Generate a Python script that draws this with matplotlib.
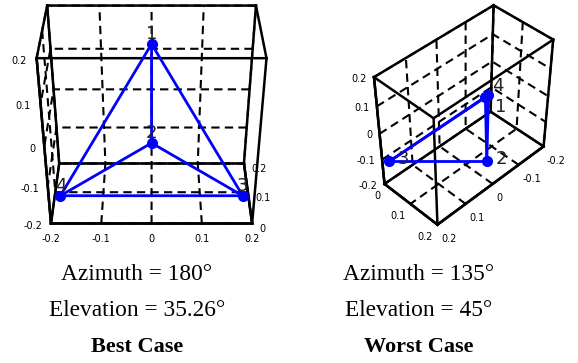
import matplotlib
matplotlib.use("Agg")
import matplotlib.pyplot as plt
from itertools import product

# corner tetrahedron: vertex 2 is the right-angle corner, three legs of 0.25
verts_x = [0.0, 0.0, 0.177, -0.177]
verts_y = [0.177, 0.177, 0.0, 0.0]
verts_z = [0.125, -0.125, -0.125, -0.125]
vert_labels = ["1", "2", "3", "4"]
edges = [(0, 1), (0, 2), (0, 3), (1, 2), (1, 3), (2, 3)]

xlim = (-0.2, 0.2)
ylim = (0.0, 0.2)
zlim = (-0.2, 0.2)
xticks = [-0.2, -0.1, 0, 0.1, 0.2]
yticks = [0, 0.1, 0.2]
zticks = [-0.2, -0.1, 0, 0.1, 0.2]

# two camera positions and their captions
view_elev = [35.26, 45]
view_azim = [-89.99, 45]
az_text = ["180", "135"]
el_text = ["35.26", "45"]
case_text = ["Best Case", "Worst Case"]


def fmt(v):
    return "0" if abs(v) < 1e-9 else f"{v:g}"


W, H = 578, 363
fig = plt.figure(figsize=(W / 100, H / 100), dpi=100)
# axes boxes in pixels (left, bottom, width, height); slightly wider than tall
ax_px = [(16, 116, 264, 254), (328, 118, 268, 254)]
ax_zoom = [1.13, 0.863]
z_tick_side = ["lower", "default"]
# tick-label (ha, va, pad) for x, y, z per panel
tick_style = [
    [("center", "top", -3), ("left", "center", -4), ("right", "center", -4)],
    [("left", "top", -1), ("right", "top", -4), ("right", "center", -4)],
]
caption_x = [0.237, 0.725]

# vertex-number placement per view: (dx, dy, dz, ha, va) for each vertex
label_place = [
    [(0, 0, 0.002, "center", "bottom")] * 4,
    [(-0.012, 0.012, -0.012, "left", "top"),
     (-0.015, 0.015, 0.01, "left", "center"),
     (-0.015, 0.015, 0.01, "left", "center"),
     (-0.012, 0.012, 0.01, "left", "bottom")],
]

for i in range(2):
    l, b, w, h = ax_px[i]
    ax = fig.add_axes([l / W, b / H, w / W, h / H], projection="3d")
    # keep the full (non-square) axes box instead of forcing a square one
    ax.apply_aspect = lambda position=None: None
    ax.set_proj_type("persp", focal_length=0.65)
    ax.view_init(elev=view_elev[i], azim=view_azim[i])
    ax.set_xlim(xlim)
    ax.set_ylim(ylim)
    ax.set_zlim(zlim)
    ax.set_box_aspect((0.4, 0.2, 0.4), zoom=ax_zoom[i])
    ax.set_xticks(xticks, [fmt(v) for v in xticks])
    ax.set_yticks(yticks, [fmt(v) for v in yticks])
    ax.set_zticks(zticks, [fmt(v) for v in zticks])
    for axis, (ha, va, pad) in zip((ax.xaxis, ax.yaxis, ax.zaxis), tick_style[i]):
        axis.set_pane_color((1, 1, 1, 0))
        axis.pane.set_edgecolor("none")
        axis._axinfo["grid"].update(color="k", linestyle=(0, (4, 2.5)), linewidth=1.5)
        axis._axinfo["tick"]["inward_factor"] = 0.0
        axis._axinfo["tick"]["outward_factor"] = 0.2
        axis.line.set_color("k")
        axis.line.set_linewidth(1.8)
        axis.set_tick_params(labelsize=7, pad=pad)
        for t in axis.get_major_ticks():
            t.label1.set_ha(ha)
            t.label1.set_va(va)
    ax.zaxis.set_ticks_position(z_tick_side[i])

    # full wireframe box
    for a, b2 in product(product(xlim, ylim, zlim), repeat=2):
        if sum(p != q for p, q in zip(a, b2)) == 1 and a < b2:
            ax.plot(*zip(a, b2), color="k", lw=1.8)

    for p, q in edges:
        ax.plot([verts_x[p], verts_x[q]], [verts_y[p], verts_y[q]],
                [verts_z[p], verts_z[q]], color="#0000ff", lw=2)
    ax.plot(verts_x, verts_y, verts_z, "o", color="#0000ff", ms=7, ls="none")
    for x, y, z, s, (dx, dy, dz, ha, va) in zip(verts_x, verts_y, verts_z,
                                                 vert_labels, label_place[i]):
        ax.text(x + dx, y + dy, z + dz, s, fontsize=13, color="#222222",
                ha=ha, va=va)

    fig.text(caption_x[i], 0.245, f"Azimuth = {az_text[i]}°", ha="center",
             va="center", fontsize=16.8, family="Liberation Serif")
    fig.text(caption_x[i], 0.145, f"Elevation = {el_text[i]}°", ha="center",
             va="center", fontsize=16.8, family="Liberation Serif")
    fig.text(caption_x[i], 0.045, case_text[i], ha="center", va="center",
             fontsize=16, family="Liberation Serif", weight="bold")

fig.savefig("out.png", dpi=100)
